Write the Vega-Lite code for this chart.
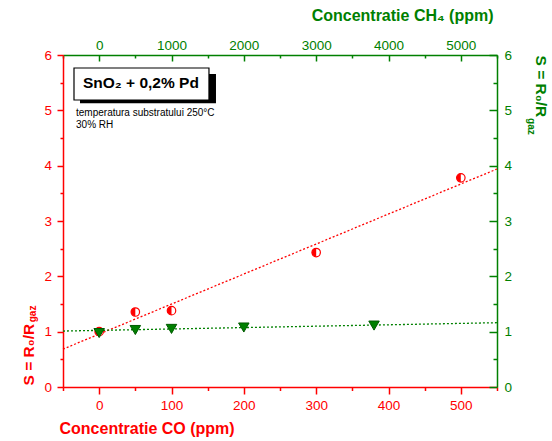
{
  "$schema": "https://vega.github.io/schema/vega-lite/v6.json",
  "width": 434,
  "height": 332,
  "autosize": {"type": "none"},
  "padding": {"left": 63, "top": 55, "right": 55, "bottom": 54},
  "background": "white",
  "config": {"view": {"stroke": null}, "font": "Liberation Sans", "axis": {"grid": false}},
  "layer": [
    {
      "data": {"values": [{}]},
      "mark": {"type": "point", "opacity": 0},
      "encoding": {
        "x": {"datum": 0, "type": "quantitative", "scale": {"domain": [-50, 550], "nice": false, "zero": false},
          "axis": {"orient": "bottom", "values": [-50, 50, 150, 250, 350, 450, 550], "labels": false, "domain": false, "title": null,
            "tickColor": "#ff0000", "tickWidth": 1.5, "tickSize": 3.5}},
        "y": {"datum": 0, "type": "quantitative", "scale": {"domain": [0, 6], "nice": false, "zero": false},
          "axis": {"orient": "left", "values": [0.5, 1.5, 2.5, 3.5, 4.5, 5.5], "labels": false, "domain": false, "title": null,
            "tickColor": "#ff0000", "tickWidth": 1.5, "tickSize": 3}}
      }
    },
    {
      "data": {"values": [{}]},
      "mark": {"type": "point", "opacity": 0},
      "encoding": {
        "x": {"datum": 0, "type": "quantitative", "scale": {"domain": [-500, 5500], "nice": false, "zero": false},
          "axis": {"orient": "top", "values": [-500, 500, 1500, 2500, 3500, 4500, 5500], "labels": false, "domain": false, "title": null,
            "tickColor": "#008000", "tickWidth": 1.5, "tickSize": -3}},
        "y": {"datum": 0, "type": "quantitative", "scale": {"domain": [0, 6], "nice": false, "zero": false},
          "axis": {"orient": "right", "values": [0.5, 1.5, 2.5, 3.5, 4.5, 5.5], "labels": false, "domain": false, "title": null,
            "tickColor": "#008000", "tickWidth": 1.5, "tickSize": -4}}
      }
    },
    {
      "data": {"values": [{"co": -50, "s": 0.685}, {"co": 550, "s": 3.94}]},
      "mark": {"type": "line", "color": "#ff0000", "strokeDash": [2, 2], "strokeWidth": 1.3},
      "encoding": {
        "x": {"field": "co", "type": "quantitative", "scale": {"domain": [-50, 550], "nice": false, "zero": false},
          "axis": {"orient": "bottom", "values": [0, 100, 200, 300, 400, 500], "format": "d",
            "labelColor": "#ff0000", "labelFontSize": 13.5, "labelFont": "Liberation Sans",
            "labelPadding": 4.5, "labelFlush": false, "labelOverlap": false, "domainColor": "#ff0000", "domainWidth": 1.5, "tickColor": "#ff0000", "tickWidth": 1.5,
            "tickSize": 7,
            "title": "Concentratie CO (ppm)", "titleColor": "#ff0000", "titleFont": "Liberation Sans", "titleFontSize": 16, "titleFontWeight": "bold",
            "titleAlign": "left", "titleBaseline": "alphabetic", "titleX": -4, "titleY": 46}},
        "y": {"field": "s", "type": "quantitative", "scale": {"domain": [0, 6], "nice": false, "zero": false},
          "axis": {"orient": "left", "values": [0, 1, 2, 3, 4, 5, 6], "format": "d",
            "labelColor": "#ff0000", "labelFontSize": 13.5, "labelFont": "Liberation Sans",
            "labelPadding": 5.6, "labelFlush": false, "labelOverlap": false, "domainColor": "#ff0000", "domainWidth": 1.5, "tickColor": "#ff0000", "tickWidth": 1.5,
            "tickSize": 6,
            "title": "S = R₀/R", "titleColor": "#ff0000", "titleFont": "Liberation Sans", "titleFontSize": 15.5, "titleFontWeight": "bold",
            "titleAngle": 270, "titleAlign": "left", "titleBaseline": "alphabetic", "titleX": -30, "titleY": 330}}
      }
    },
    {
      "data": {"values": [{"co": 0, "s": 1.0}, {"co": 50, "s": 1.355}, {"co": 100, "s": 1.38}, {"co": 300, "s": 2.43}, {"co": 500, "s": 3.78}]},
      "mark": {"type": "point", "shape": "circle", "filled": true, "fill": "white", "stroke": "#ff0000", "strokeWidth": 1.2, "size": 72, "opacity": 1},
      "encoding": {
        "x": {"field": "co", "type": "quantitative", "scale": {"domain": [-50, 550], "nice": false, "zero": false}, "axis": null},
        "y": {"field": "s", "type": "quantitative", "scale": {"domain": [0, 6], "nice": false, "zero": false}, "axis": null}
      }
    },
    {
      "data": {"values": [{"co": 0, "s": 1.0}, {"co": 50, "s": 1.355}, {"co": 100, "s": 1.38}, {"co": 300, "s": 2.43}, {"co": 500, "s": 3.78}]},
      "mark": {"type": "point", "shape": "M0,-1A1,1,0,0,0,0,1Z", "filled": true, "fill": "#ff0000", "strokeWidth": 0, "size": 72, "opacity": 1},
      "encoding": {
        "x": {"field": "co", "type": "quantitative", "scale": {"domain": [-50, 550], "nice": false, "zero": false}, "axis": null},
        "y": {"field": "s", "type": "quantitative", "scale": {"domain": [0, 6], "nice": false, "zero": false}, "axis": null}
      }
    },
    {
      "data": {"values": [{"ch4": -500, "s": 1.011}, {"ch4": 5500, "s": 1.162}]},
      "mark": {"type": "line", "color": "#008000", "strokeDash": [2, 2], "strokeWidth": 1.3},
      "encoding": {
        "x": {"field": "ch4", "type": "quantitative", "scale": {"domain": [-500, 5500], "nice": false, "zero": false},
          "axis": {"orient": "top", "values": [0, 1000, 2000, 3000, 4000, 5000], "format": "d",
            "labelColor": "#008000", "labelFontSize": 13.5, "labelFont": "Liberation Sans",
            "labelPadding": 9, "labelFlush": false, "labelOverlap": false, "domainColor": "#008000", "domainWidth": 1.5, "tickColor": "#008000", "tickWidth": 1.5,
            "tickSize": -6,
            "title": "Concentratie CH₄ (ppm)", "titleColor": "#008000", "titleFont": "Liberation Sans", "titleFontSize": 16, "titleFontWeight": "bold",
            "titleAlign": "right", "titleBaseline": "alphabetic", "titleX": 430, "titleY": -35}},
        "y": {"field": "s", "type": "quantitative", "scale": {"domain": [0, 6], "nice": false, "zero": false},
          "axis": {"orient": "right", "values": [0, 1, 2, 3, 4, 5, 6], "format": "d",
            "labelColor": "#008000", "labelFontSize": 13.5, "labelFont": "Liberation Sans",
            "labelPadding": 15, "labelFlush": false, "labelOverlap": false, "domainColor": "#008000", "domainWidth": 1.5, "tickColor": "#008000", "tickWidth": 1.5,
            "tickSize": -8,
            "title": "S = R₀/R", "titleColor": "#008000", "titleFont": "Liberation Sans", "titleFontSize": 15.5, "titleFontWeight": "bold",
            "titleAngle": 90, "titleAlign": "left", "titleBaseline": "alphabetic", "titleX": 38, "titleY": 0}}
      }
    },
    {
      "data": {"values": [{"ch4": 0, "s": 0.975}, {"ch4": 500, "s": 1.03}, {"ch4": 1000, "s": 1.05}, {"ch4": 2000, "s": 1.075}, {"ch4": 3800, "s": 1.11}]},
      "mark": {"type": "point", "shape": "triangle-down", "filled": true, "fill": "#008000", "stroke": "#005a00", "strokeWidth": 1, "size": 110, "opacity": 1},
      "encoding": {
        "x": {"field": "ch4", "type": "quantitative", "scale": {"domain": [-500, 5500], "nice": false, "zero": false}, "axis": null},
        "y": {"field": "s", "type": "quantitative", "scale": {"domain": [0, 6], "nice": false, "zero": false}, "axis": null}
      }
    },
    {
      "data": {"values": [{}]},
      "mark": {"type": "rect", "fill": "black"},
      "encoding": {
        "x": {"datum": -26.5, "type": "quantitative", "scale": {"domain": [-50, 550], "nice": false, "zero": false}, "axis": null},
        "x2": {"datum": 161.5},
        "y": {"datum": 5.657, "type": "quantitative", "scale": {"domain": [0, 6], "nice": false, "zero": false}, "axis": null},
        "y2": {"datum": 5.127}
      }
    },
    {
      "data": {"values": [{}]},
      "mark": {"type": "rect", "fill": "white", "stroke": "black", "strokeWidth": 1.2},
      "encoding": {
        "x": {"datum": -34.8, "type": "quantitative", "scale": {"domain": [-50, 550], "nice": false, "zero": false}, "axis": null},
        "x2": {"datum": 151.8},
        "y": {"datum": 5.765, "type": "quantitative", "scale": {"domain": [0, 6], "nice": false, "zero": false}, "axis": null},
        "y2": {"datum": 5.187}
      }
    },
    {
      "data": {"values": [{"label": "SnO₂ + 0,2% Pd"}]},
      "mark": {"type": "text", "align": "left", "baseline": "alphabetic", "fontSize": 15.5, "fontWeight": "bold", "font": "Liberation Sans", "color": "black"},
      "encoding": {
        "x": {"datum": -22.35, "type": "quantitative", "scale": {"domain": [-50, 550], "nice": false, "zero": false}, "axis": null},
        "y": {"datum": 5.404, "type": "quantitative", "scale": {"domain": [0, 6], "nice": false, "zero": false}, "axis": null},
        "text": {"field": "label"}
      }
    },
    {
      "data": {"values": [{"label": "temperatura substratului 250°C"}]},
      "mark": {"type": "text", "align": "left", "baseline": "alphabetic", "fontSize": 10, "font": "Liberation Sans", "color": "black"},
      "encoding": {
        "x": {"datum": -32, "type": "quantitative", "scale": {"domain": [-50, 550], "nice": false, "zero": false}, "axis": null},
        "y": {"datum": 4.898, "type": "quantitative", "scale": {"domain": [0, 6], "nice": false, "zero": false}, "axis": null},
        "text": {"field": "label"}
      }
    },
    {
      "data": {"values": [{"label": "30% RH"}]},
      "mark": {"type": "text", "align": "left", "baseline": "alphabetic", "fontSize": 10, "font": "Liberation Sans", "color": "black"},
      "encoding": {
        "x": {"datum": -32, "type": "quantitative", "scale": {"domain": [-50, 550], "nice": false, "zero": false}, "axis": null},
        "y": {"datum": 4.68, "type": "quantitative", "scale": {"domain": [0, 6], "nice": false, "zero": false}, "axis": null},
        "text": {"field": "label"}
      }
    },
    {
      "data": {"values": [{"label": "gaz"}]},
      "mark": {"type": "text", "align": "left", "baseline": "alphabetic", "angle": 270, "fontSize": 10, "fontWeight": "bold", "font": "Liberation Sans", "color": "#ff0000"},
      "encoding": {
        "x": {"datum": -87.3, "type": "quantitative", "scale": {"domain": [-50, 550], "nice": false, "zero": false}, "axis": null},
        "y": {"datum": 1.17, "type": "quantitative", "scale": {"domain": [0, 6], "nice": false, "zero": false}, "axis": null},
        "text": {"field": "label"}
      }
    },
    {
      "data": {"values": [{"label": "gaz"}]},
      "mark": {"type": "text", "align": "left", "baseline": "alphabetic", "angle": 90, "fontSize": 10, "fontWeight": "bold", "font": "Liberation Sans", "color": "#008000"},
      "encoding": {
        "x": {"datum": 592.9, "type": "quantitative", "scale": {"domain": [-50, 550], "nice": false, "zero": false}, "axis": null},
        "y": {"datum": 4.86, "type": "quantitative", "scale": {"domain": [0, 6], "nice": false, "zero": false}, "axis": null},
        "text": {"field": "label"}
      }
    }
  ],
  "resolve": {"scale": {"x": "independent", "y": "independent"}}
}
